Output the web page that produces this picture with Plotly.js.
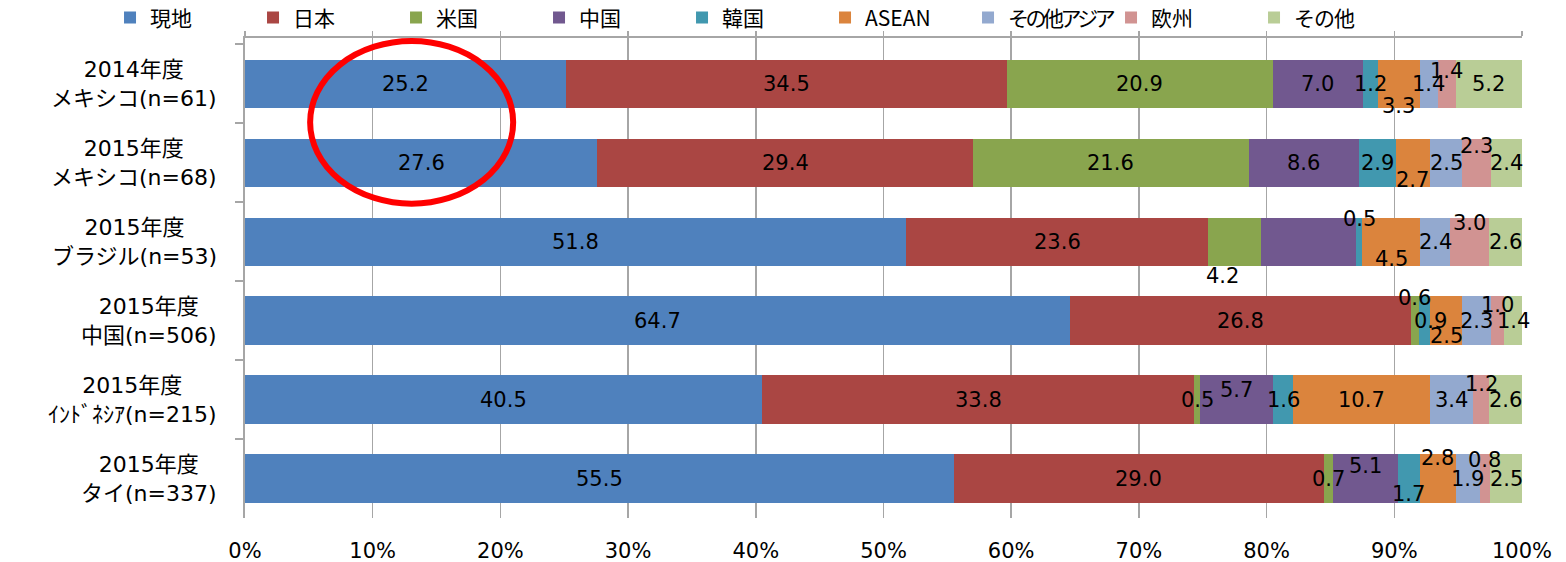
<!DOCTYPE html>
<html>
<head>
<meta charset="utf-8">
<script src="https://cdn.plot.ly/plotly-3.0.1.min.js"></script>
<style>
html,body{margin:0;padding:0;background:#fff;}
</style>
</head>
<body>
<div id="chart" style="width:1566px;height:562px;"></div>
<script>
// ---- data ----
const categories = [
  "2014年度<br>メキシコ(n=61)",
  "2015年度<br>メキシコ(n=68)",
  "2015年度<br>ブラジル(n=53)",
  "2015年度<br>中国(n=506)",
  "2015年度<br>ｲﾝﾄﾞﾈｼｱ(n=215)",
  "2015年度<br>タイ(n=337)"
];
const seriesNames = ["現地", "日本", "米国", "中国", "韓国", "ASEAN", "その他アジア", "欧州", "その他"];
const genchi    = [25.2, 27.6, 51.8, 64.7, 40.5, 55.5];
const nihon     = [34.5, 29.4, 23.6, 26.8, 33.8, 29.0];
const beikoku   = [20.9, 21.6, 4.2, 0.6, 0.5, 0.7];
const chugoku   = [7.0, 8.6, 7.4, 0, 5.7, 5.1];
const kankoku   = [1.2, 2.9, 0.5, 0.9, 1.6, 1.7];
const asean     = [3.3, 2.7, 4.5, 2.5, 10.7, 2.8];
const otherAsia = [1.4, 2.5, 2.4, 2.3, 3.4, 1.9];
const oushu     = [1.4, 2.3, 3.0, 1.0, 1.2, 0.8];
const sonota    = [5.2, 2.4, 2.6, 1.4, 2.6, 2.5];
const seriesValues = [genchi, nihon, beikoku, chugoku, kankoku, asean, otherAsia, oushu, sonota];

// ---- style ----
const colors = ["#4F81BD", "#AA4643", "#89A54E", "#71588F", "#4198AF", "#DB843D", "#93A9CF", "#D19392", "#B9CD96"];
// legend letter-spacing (px) per entry, to keep long names inside their slot
const legendSpacing = [0, 0, 0, 0, 0, 0, -3.5, 0, -1];
// vertical label offsets in px (null = label not shown), per series per row
const labelShift = [
  [0, 0, 0, 0, 0, 0],
  [0, 0, 0, 0, 0, 0],
  [0, 0, -34, 23, 0, 0],
  [0, 0, null, null, 10, 13],
  [0, 0, 23, 0, 0, -15],
  [-22, -17, -17, -15, 0, 21],
  [0, 0, 0, 0, 0, 0],
  [13, 17, 19, 16, 16, 19],
  [0, 0, 0, 0, 0, 0]
];
// horizontal label offsets in px, per series per row
const labelXShift = [
  [0, 0, 0, 0, 0, 0],
  [0, 0, 0, 0, 0, 0],
  [0, 0, -12, 0, 0, 0],
  [0, 0, 0, 0, 0, 0],
  [0, 0, 0, 6, 0, 0],
  [0, 0, 0, 0, 0, 0],
  [0, 0, 0, 0, 0, 0],
  [0, 0, 0, 0, 0, 0],
  [0, 0, 0, 0, 0, 0]
];
const gridGray = "#A6A6A6";
const labelFont = {family: "DejaVu Sans, Noto Sans CJK JP", size: 21, color: "#000"};

const traces = seriesNames.map((name, i) => ({
  type: "bar",
  orientation: "h",
  name: legendSpacing[i] ? '<span style="letter-spacing:' + legendSpacing[i] + 'px">' + name + '</span>' : name,
  y: categories,
  x: seriesValues[i],
  marker: {color: colors[i], line: {width: 0}},
  hoverinfo: "skip"
}));
// invisible helper so the top axis (line + ticks) is drawn
traces.push({
  type: "scatter", mode: "markers",
  x: [0], y: [categories[0]],
  xaxis: "x2", yaxis: "y",
  marker: {opacity: 0, size: 1},
  showlegend: false, hoverinfo: "skip"
});

// data labels computed from cumulative sums (normalized like barnorm)
const annotations = [];
categories.forEach((cat, r) => {
  const total = seriesValues.reduce((s, arr) => s + arr[r], 0);
  let cum = 0;
  seriesValues.forEach((arr, i) => {
    const v = arr[r];
    const start = cum;
    cum += v;
    const shift = labelShift[i][r];
    if (shift === null || v <= 0) return;
    annotations.push({
      xref: "x", yref: "y",
      x: (start + v / 2) / total * 100,
      y: cat,
      text: v.toFixed(1),
      showarrow: false,
      yshift: shift,
      xshift: labelXShift[i][r],
      font: labelFont
    });
  });
  // category label
  annotations.push({
    xref: "paper", yref: "y",
    x: 0, y: cat,
    xanchor: "right", yanchor: "middle",
    xshift: -26, yshift: 0,
    align: "center",
    text: cat,
    showarrow: false,
    font: {family: "DejaVu Sans, Noto Sans CJK JP", size: 22, color: "#000"}
  });
});

const layout = {
  width: 1566, height: 562,
  margin: {l: 245, r: 44, t: 38, b: 44, autoexpand: false},
  paper_bgcolor: "#fff", plot_bgcolor: "#fff",
  barmode: "stack",
  barnorm: "percent",
  bargap: 0.39,
  showlegend: true,
  legend: {
    orientation: "h",
    x: -0.1057, xanchor: "left",
    y: 1.042, yanchor: "middle",
    font: {family: "Noto Sans CJK JP", size: 21, color: "#000"},
    entrywidth: 98,
    itemwidth: 30,
    traceorder: "normal",
    bgcolor: "rgba(0,0,0,0)"
  },
  xaxis: {
    range: [0, 100],
    tick0: 0, dtick: 10,
    ticksuffix: "%",
    showgrid: true, gridcolor: gridGray, gridwidth: 1.5,
    zeroline: false, showline: false,
    ticks: "",
    ticklabelstandoff: 18,
    tickfont: {family: "DejaVu Sans", size: 21, color: "#000"},
    fixedrange: true
  },
  xaxis2: {
    overlaying: "x", side: "top", anchor: "y",
    range: [0, 100],
    tick0: 0, dtick: 10,
    showline: true, linecolor: gridGray, linewidth: 2,
    ticks: "outside", ticklen: 5, tickcolor: gridGray, tickwidth: 1.5,
    showticklabels: false, showgrid: false, zeroline: false,
    fixedrange: true
  },
  yaxis: {
    type: "category",
    autorange: "reversed",
    showticklabels: false,
    tickson: "boundaries",
    ticks: "outside", ticklen: 8, tickcolor: gridGray, tickwidth: 2,
    showline: true, linecolor: gridGray, linewidth: 2,
    showgrid: false, zeroline: false,
    fixedrange: true
  },
  annotations: annotations,
  shapes: [{
    type: "circle", xref: "x", yref: "y",
    x0: 5.1, x1: 21.0, y0: -0.54, y1: 1.52,
    line: {color: "#FF0000", width: 6},
    fillcolor: "rgba(0,0,0,0)",
    layer: "above"
  }],
  hovermode: false
};

Plotly.newPlot("chart", traces, layout, {displayModeBar: false, staticPlot: true});
</script>
</body>
</html>
